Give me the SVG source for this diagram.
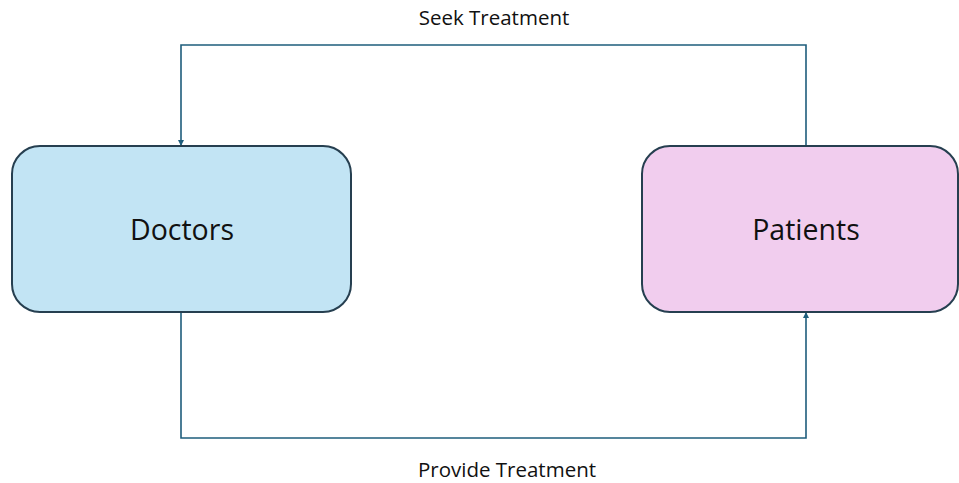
<svg xmlns="http://www.w3.org/2000/svg" width="959" height="483" viewBox="0 0 959 483">
<style>
.box{stroke:#263f50;stroke-width:2}
.conn{fill:none;stroke:#1e5d7c;stroke-width:1.6}
.lbl{font-family:"Open Sans","Liberation Sans",Arial,sans-serif;fill:#111;text-anchor:middle}
</style>
<defs>
<marker id="ah" viewBox="0 0 10 10" refX="10" refY="5" markerWidth="6" markerHeight="6" markerUnits="userSpaceOnUse" orient="auto">
<path d="M0,0 L10,5 L0,10 z" fill="#1e5d7c"/>
</marker>
</defs>
<rect width="959" height="483" fill="#fff"/>
<g id="connectors">
<path class="conn" d="M806,146 V45 H181 V146" marker-end="url(#ah)"/>
<path class="conn" d="M181,312 V438 H806 V312" marker-end="url(#ah)"/>
<text class="lbl" x="494" y="25" font-size="20.5">Seek Treatment</text>
<text class="lbl" x="507" y="477" font-size="20.5">Provide Treatment</text>
</g>
<g id="doctors">
<rect class="box" x="12" y="146" width="339" height="166" rx="28" fill="#c2e4f4"/>
<text class="lbl" x="182" y="240" font-size="28.5">Doctors</text>
</g>
<g id="patients">
<rect class="box" x="642" y="146" width="316" height="166" rx="28" fill="#f1cdee"/>
<text class="lbl" x="806" y="240" font-size="28.5">Patients</text>
</g>
</svg>
